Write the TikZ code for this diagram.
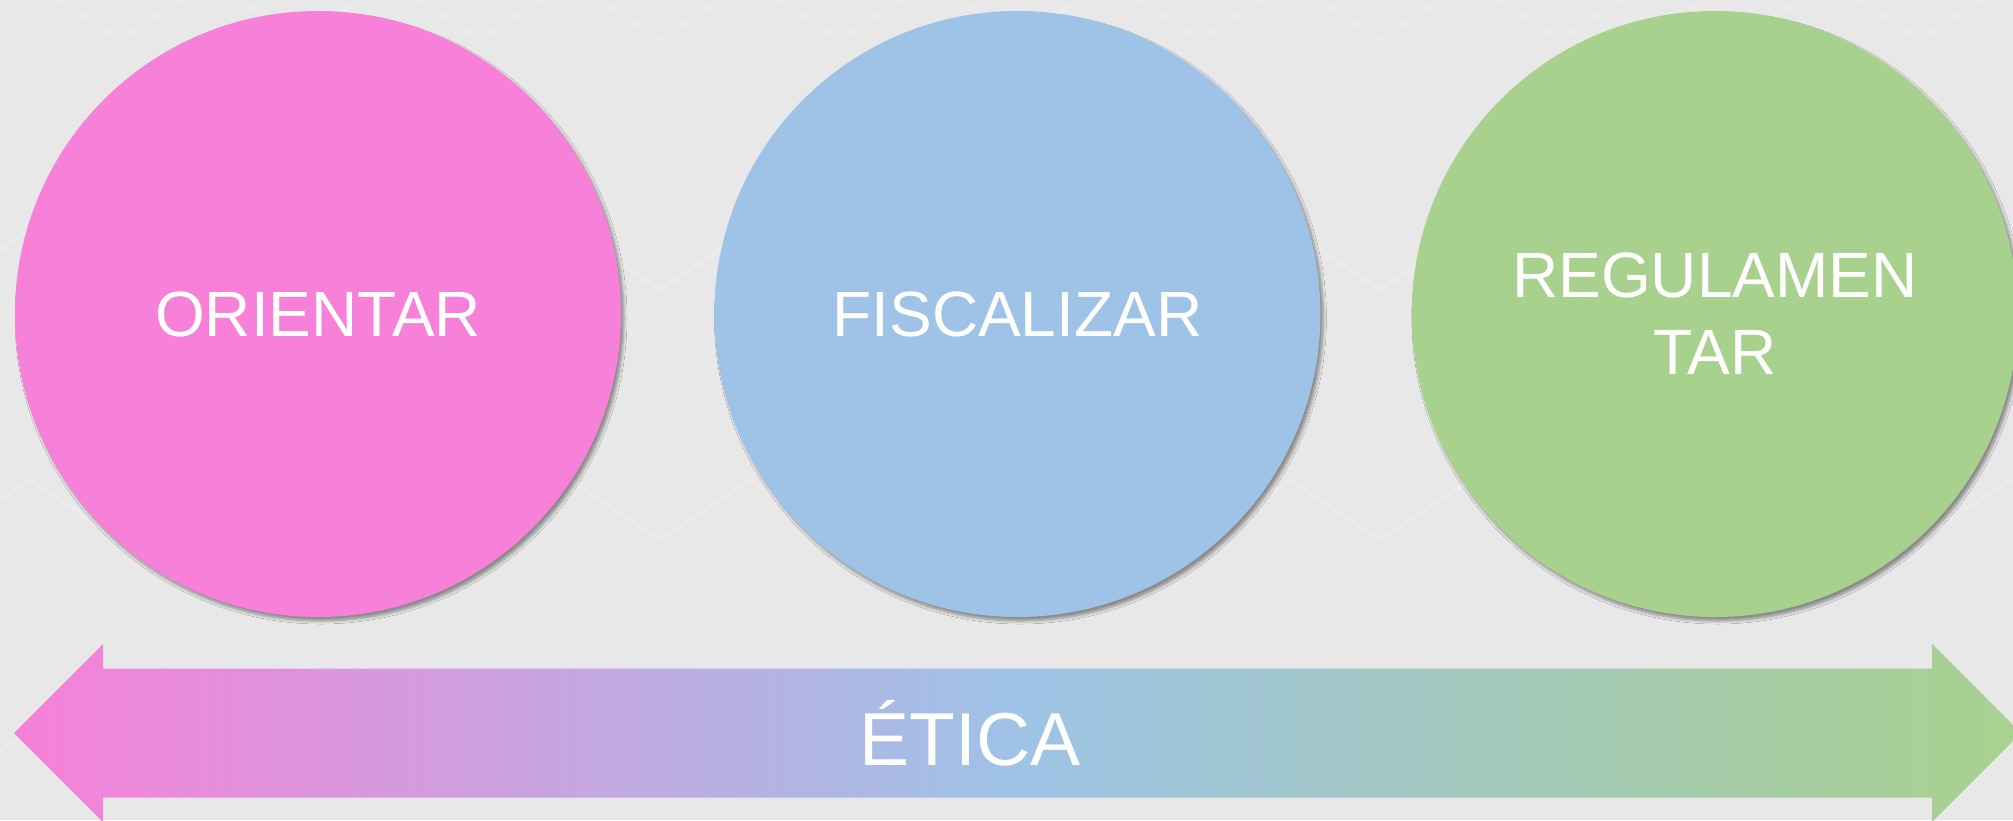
\documentclass[tikz,border=0pt]{standalone}
\usepackage{fontspec}
\setmainfont{Liberation Sans}
\usetikzlibrary{shadows.blur,positioning}
\definecolor{paper}{RGB}{232,232,232}
\definecolor{rosa}{RGB}{247,128,216}
\definecolor{azul}{RGB}{158,195,230}
\definecolor{verde}{RGB}{169,209,142}
\pgfdeclarehorizontalshading{eticaband}{100bp}{color(0bp)=(rosa); color(25bp)=(rosa); color(50bp)=(azul); color(75bp)=(verde); color(100bp)=(verde)}

\begin{document}
\begin{tikzpicture}[x=1pt, y=-1pt,
    bubble/.style={circle, minimum size=606pt, inner sep=0pt, text=white, align=center,
      font=\fontsize{64}{77}\selectfont,
      blur shadow={shadow xshift=3pt, shadow yshift=-4pt, shadow opacity=40, shadow blur radius=3pt, shadow blur steps=6}},
    chevron/.style={draw=white, line width=5pt, opacity=.15, line join=miter},
    band/.style={shading=eticaband, draw=none}
  ]
  \def\mid{733}
  \def\shaft{64.5}
  \def\head{89}
  \coordinate (tl) at (14,\mid);
  \coordinate (tr) at (2021,\mid);

  % background with faint chevrons
  \fill [paper] (0,0) rectangle (2013,820);
  \clip (0,0) rectangle (2013,820);
  \foreach \row in {40,290,540,790}
    \draw [chevron] (-60,\row) \foreach \k in {0,...,12} { -- ++(90,-60) -- ++(90,60) };

  % circles
  \node [bubble, fill=rosa] (orientar) at (318,314) {ORIENTAR};
  \node [bubble, fill=azul, right=93pt of orientar] (fiscalizar) {FISCALIZAR};
  \node [bubble, fill=verde, right=91pt of fiscalizar] (regulamentar) {REGULAMEN\\TAR};

  % double arrow
  \path [band] (tl) -- ++(\head,-\head) -- ++(0,\head-\shaft) -- (1932,\mid-\shaft)
    -- ++(0,\shaft-\head) -- (tr) -- ++(-\head,\head) -- ++(0,\shaft-\head)
    -- (14+\head,\mid+\shaft) -- ++(0,\head-\shaft) -- cycle;
  \node [text=white, font=\fontsize{75}{90}\selectfont] (etica) at (970,\mid) {ÉTICA};
\end{tikzpicture}
\end{document}
